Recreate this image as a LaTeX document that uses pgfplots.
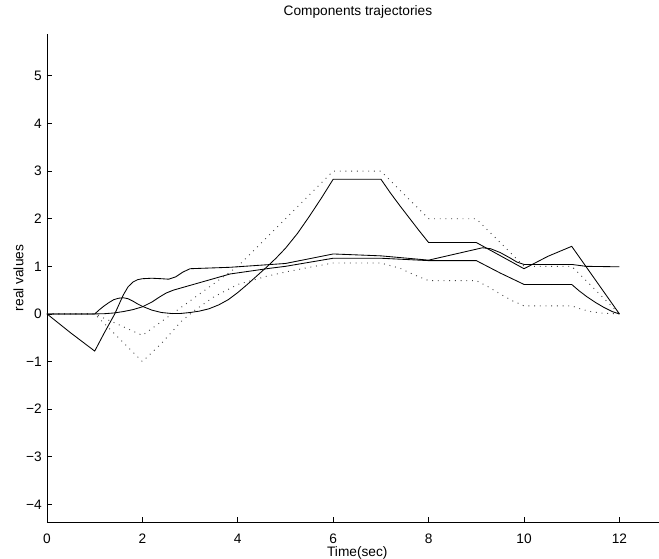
\documentclass[border=0pt]{standalone}
\usepackage{fontspec}
\setmainfont{Liberation Sans}
\usepackage{pgfplots}
\pgfplotsset{compat=1.18}

\newcommand{\lblfont}{\fontsize{13.7}{16}\selectfont}

\begin{document}
\begin{tikzpicture}
\useasboundingbox (0,0) rectangle (659pt,558pt);
\begin{axis}[
    at={(47pt,36pt)}, anchor=south west,
    scale only axis, width=612pt, height=488pt,
    xmin=0, xmax=12.83, ymin=-4.37, ymax=5.88,
    axis x line=bottom, axis y line=left,
    axis line style={-, line width=0.8pt},
    xtick={0,2,...,12}, xticklabels={0,2,4,6,8,10,12},
    ytick={-4,-3,...,5}, yticklabels={−4,−3,−2,−1,0,1,2,3,4,5},
    tick align=inside, major tick length=5pt,
    tick style={black, line width=0.8pt},
    xticklabel style={font=\lblfont, anchor=base, yshift=-21pt, inner sep=0pt},
    yticklabel style={font=\lblfont, anchor=east, xshift=-5pt, inner sep=0pt},
    title={Components trajectories},
    title style={font=\lblfont, at={(axis description cs:0.508,1.0246)}, anchor=base},
    xlabel={Time(sec)},
    xlabel style={font=\lblfont, at={(axis description cs:0.507,-0.0697)}, anchor=base},
    ylabel={real values},
    ylabel style={font=\lblfont, at={(axis description cs:-0.0387,0.5)}, anchor=base},
]
% upper bound (dotted)
\addplot[black!75, line width=0.9pt, dash pattern=on 0.9pt off 4.8pt] coordinates {
    (0,0) (1,0) (2,-0.45) (4,1.0) (6,3.0) (7,3.0) (8,2.0) (9,2.0) (10,1.0) (11,1.0) (12,0)
};
% lower bound (dotted)
\addplot[black!75, line width=0.9pt, dash pattern=on 0.9pt off 4.8pt] coordinates {
    (0,0) (1,0) (2,-1.0) (2.4,-0.62) (2.8,-0.17) (3.1,0.08) (3.5,0.36) (4.0,0.62)
    (4.6,0.79) (5.0,0.88) (5.5,0.98) (6,1.07) (7,1.07) (7.4,0.96) (7.7,0.82) (8,0.7)
    (9,0.7) (9.25,0.57) (9.5,0.42) (9.75,0.28) (10,0.17) (11,0.17) (11.2,0.1)
    (11.4,0.05) (11.6,0.02) (12,0)
};
% component 1
\addplot[black, line width=0.85pt] coordinates {
    (0,0) (0.25,-0.2) (0.5,-0.4) (0.75,-0.59) (1,-0.78) (1.2,-0.4) (1.42,0)
    (1.6,0.4) (1.7,0.57) (1.8,0.67) (1.9,0.72) (2.0,0.74) (2.2,0.75) (2.4,0.74)
    (2.55,0.73) (2.7,0.78) (2.85,0.88) (3.0,0.95) (3.84,0.98) (5.0,1.06) (5.5,1.16)
    (6,1.26) (7,1.22) (8,1.13) (9.0,1.36) (9.13,1.39) (9.3,1.37) (9.5,1.29)
    (9.7,1.18) (9.85,1.09) (10,1.04) (11,1.04) (11.3,1.0) (12,0.99)
};
% component 2
\addplot[black, line width=0.85pt] coordinates {
    (0,0) (1,0) (1.1,0.09) (1.2,0.17) (1.3,0.24) (1.4,0.3) (1.5,0.33) (1.6,0.34)
    (1.7,0.32) (1.8,0.27) (1.9,0.21) (2.0,0.16) (2.2,0.08) (2.4,0.03) (2.6,0.01)
    (2.8,0.01) (3.0,0.03) (3.2,0.06) (3.4,0.11) (3.6,0.19) (3.8,0.3) (4.0,0.45)
    (4.2,0.62) (4.4,0.8) (4.6,0.98) (4.8,1.17) (5.0,1.38) (5.25,1.69) (5.5,2.05)
    (5.75,2.43) (6,2.83) (7,2.83) (7.2,2.54) (7.4,2.27) (7.6,2.01) (7.8,1.75)
    (8,1.5) (9,1.5) (10,0.95) (10.5,1.21) (11,1.42) (12,0)
};
% component 3
\addplot[black, line width=0.85pt] coordinates {
    (0,0) (1,0) (1.2,0.005) (1.4,0.02) (1.6,0.05) (1.8,0.09) (2.0,0.15) (2.2,0.25)
    (2.35,0.35) (2.5,0.44) (2.65,0.5) (3.0,0.6) (3.35,0.7) (3.84,0.84) (4.05,0.87)
    (4.68,0.96) (5.0,1.0) (6.0,1.17) (7,1.17) (8,1.12) (9,1.12) (9.5,0.86)
    (10,0.62) (11,0.62) (11.15,0.49) (11.32,0.36) (11.5,0.24) (11.67,0.14)
    (11.85,0.05) (12,0)
};
\end{axis}
\end{tikzpicture}
\end{document}
